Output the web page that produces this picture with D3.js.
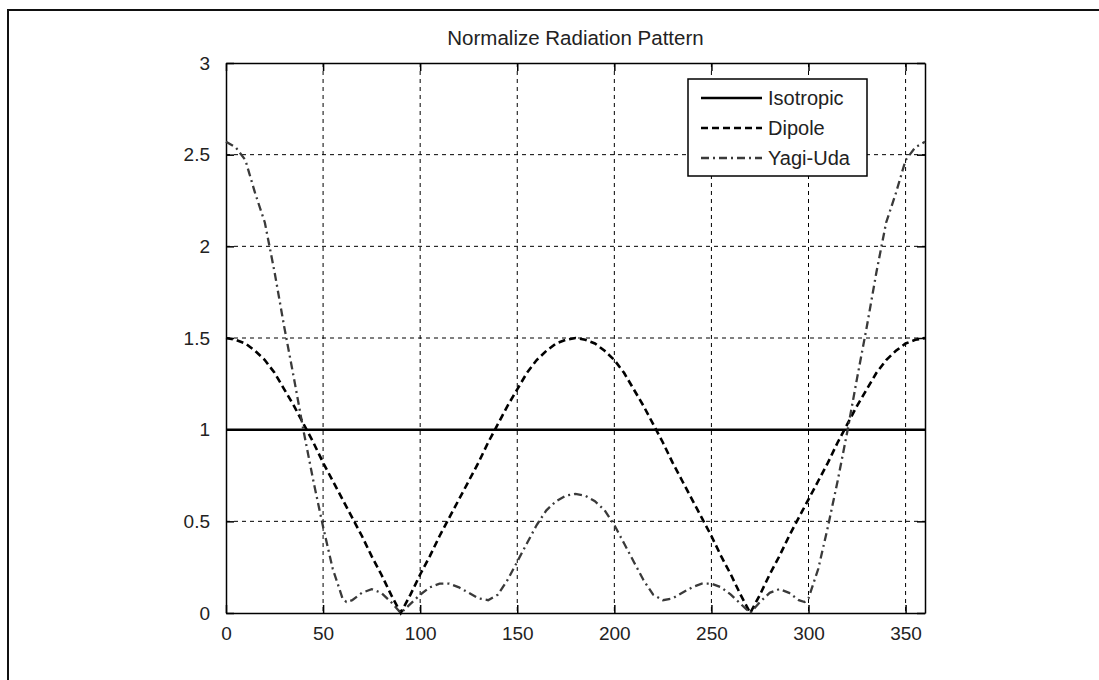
<!DOCTYPE html>
<html>
<head>
<meta charset="utf-8">
<script src="https://cdn.jsdelivr.net/npm/d3@7"></script>
<style>
  body { margin: 0; background: #fff; }
  svg text { font-family: "Liberation Sans", Arial, sans-serif; fill: #222; }
</style>
</head>
<body>
<div id="chart"></div>
<script>
// values
var isoAngles = [0, 360];
var isotropic = [1, 1];

var dipoleAngles = [0, 5, 10, 15, 20, 25, 30, 35, 40, 45, 50, 55, 60, 65, 70, 75, 80, 85, 90,
  95, 100, 105, 110, 115, 120, 125, 130, 135, 140, 145, 150, 155, 160, 165, 170, 175, 180,
  185, 190, 195, 200, 205, 210, 215, 220, 225, 230, 235, 240, 245, 250, 255, 260, 265, 270,
  275, 280, 285, 290, 295, 300, 305, 310, 315, 320, 325, 330, 335, 340, 345, 350, 355, 360];
var dipole = [1.5, 1.49, 1.47, 1.43, 1.38, 1.31, 1.22, 1.13, 1.03, 0.93, 0.82, 0.72, 0.62, 0.52, 0.42, 0.31, 0.21, 0.10, 0,
  0.10, 0.21, 0.31, 0.42, 0.52, 0.62, 0.72, 0.82, 0.93, 1.03, 1.13, 1.22, 1.31, 1.38, 1.43, 1.47, 1.49, 1.5,
  1.49, 1.47, 1.43, 1.38, 1.31, 1.22, 1.13, 1.03, 0.93, 0.82, 0.72, 0.62, 0.52, 0.42, 0.31, 0.21, 0.10, 0,
  0.10, 0.21, 0.31, 0.42, 0.52, 0.62, 0.72, 0.82, 0.93, 1.03, 1.13, 1.22, 1.31, 1.38, 1.43, 1.47, 1.49, 1.5];

var yagiAngles = [0, 5, 10, 15, 20, 25, 30, 35, 40, 45, 50, 55, 60, 62, 65, 70, 75, 80, 85, 90,
  95, 100, 105, 110, 115, 120, 125, 130, 135, 140, 145, 150, 155, 160, 165, 170, 175, 180,
  185, 190, 195, 200, 205, 210, 215, 220, 225, 230, 235, 240, 245, 250, 255, 260, 265, 270,
  275, 280, 285, 290, 295, 298, 300, 305, 310, 315, 320, 325, 330, 335, 340, 345, 350, 355, 360];
var yagi = [2.57, 2.54, 2.47, 2.29, 2.13, 1.86, 1.56, 1.28, 0.99, 0.72, 0.47, 0.24, 0.08, 0.06, 0.07, 0.11, 0.13, 0.11, 0.06, 0,
  0.05, 0.10, 0.14, 0.16, 0.16, 0.14, 0.11, 0.08, 0.07, 0.10, 0.18, 0.28, 0.38, 0.48, 0.56, 0.61, 0.64, 0.65,
  0.64, 0.61, 0.56, 0.48, 0.38, 0.28, 0.18, 0.10, 0.07, 0.08, 0.11, 0.14, 0.16, 0.16, 0.14, 0.10, 0.05, 0,
  0.06, 0.11, 0.13, 0.11, 0.07, 0.06, 0.08, 0.24, 0.47, 0.72, 0.99, 1.28, 1.56, 1.86, 2.13, 2.29, 2.47, 2.54, 2.57];

var xTicks = [0, 50, 100, 150, 200, 250, 300, 350];
var yTicks = [0, 0.5, 1, 1.5, 2, 2.5, 3];
var seriesNames = ["Isotropic", "Dipole", "Yagi-Uda"];

var width = 1099, height = 680;
var plotL = 226, plotR = 925, plotT = 63, plotB = 613;

var svg = d3.select("#chart").append("svg")
    .attr("width", width)
    .attr("height", height);

// outer frame (only top and left edges show in the shot)
svg.append("path")
    .attr("d", "M8,680 L8,10 L1099,10")
    .attr("fill", "none")
    .attr("stroke", "#111")
    .attr("stroke-width", 2);

var x = d3.scaleLinear().domain([0, 360]).range([plotL, plotR]);
var y = d3.scaleLinear().domain([0, 3]).range([plotB, plotT]);

// grid
svg.append("g").selectAll("line")
    .data(xTicks.filter(function(d) { return d > 0; }))
    .enter().append("line")
    .attr("x1", function(d) { return x(d); })
    .attr("x2", function(d) { return x(d); })
    .attr("y1", plotT).attr("y2", plotB)
    .attr("stroke", "#000").attr("stroke-width", 1)
    .attr("stroke-dasharray", "4,4");
svg.append("g").selectAll("line")
    .data(yTicks.filter(function(d) { return d > 0 && d < 3; }))
    .enter().append("line")
    .attr("y1", function(d) { return y(d); })
    .attr("y2", function(d) { return y(d); })
    .attr("x1", plotL).attr("x2", plotR)
    .attr("stroke", "#000").attr("stroke-width", 1)
    .attr("stroke-dasharray", "4,4");

// axes, ticks inside like matlab
var xAxis = svg.append("g")
    .attr("transform", "translate(0," + plotB + ")")
    .call(d3.axisBottom(x).tickValues(xTicks).tickSizeInner(-8).tickSizeOuter(0).tickPadding(14));
var xAxisTop = svg.append("g")
    .attr("transform", "translate(0," + plotT + ")")
    .call(d3.axisTop(x).tickValues(xTicks).tickSizeInner(-8).tickSizeOuter(0).tickFormat(""));
var yAxis = svg.append("g")
    .attr("transform", "translate(" + plotL + ",0)")
    .call(d3.axisLeft(y).tickValues(yTicks).tickSizeInner(-8).tickSizeOuter(0).tickPadding(16)
      .tickFormat(function(d) { return String(d); }));
var yAxisRight = svg.append("g")
    .attr("transform", "translate(" + plotR + ",0)")
    .call(d3.axisRight(y).tickValues(yTicks).tickSizeInner(-8).tickSizeOuter(0).tickFormat(""));

[xAxis, xAxisTop, yAxis, yAxisRight].forEach(function(a) {
  a.select(".domain").attr("stroke", "#000").attr("stroke-width", 1.5);
  a.selectAll(".tick line").attr("stroke", "#000").attr("stroke-width", 1.5);
  a.selectAll("text").style("font-size", "19px").attr("fill", "#222");
});

// lines
var line = d3.line()
    .x(function(d) { return x(d[0]); })
    .y(function(d) { return y(d[1]); });

var styles = [
  { stroke: "#000", dash: null, w: 2.5 },
  { stroke: "#000", dash: "7,4", w: 2.6 },
  { stroke: "#3a3a3a", dash: "8,4,2,4", w: 2.3 }
];

var seriesData = [
  d3.zip(isoAngles, isotropic),
  d3.zip(dipoleAngles, dipole),
  d3.zip(yagiAngles, yagi)
];

seriesData.forEach(function(pts, i) {
  svg.append("path")
    .attr("d", line(pts))
    .attr("fill", "none")
    .attr("stroke", styles[i].stroke)
    .attr("stroke-width", styles[i].w)
    .attr("stroke-dasharray", styles[i].dash);
});

// title
svg.append("text")
    .attr("x", (plotL + plotR) / 2)
    .attr("y", 45)
    .attr("text-anchor", "middle")
    .style("font-size", "20.5px")
    .text("Normalize Radiation Pattern");

// legend
var lg = svg.append("g").attr("transform", "translate(688,79)");
lg.append("rect")
    .attr("width", 179).attr("height", 97)
    .attr("fill", "#fff").attr("stroke", "#000").attr("stroke-width", 1.5);
seriesNames.forEach(function(name, i) {
  var cy = 19 + i * 30;
  lg.append("line")
    .attr("x1", 13).attr("x2", 74)
    .attr("y1", cy).attr("y2", cy)
    .attr("stroke", styles[i].stroke)
    .attr("stroke-width", styles[i].w)
    .attr("stroke-dasharray", styles[i].dash);
  lg.append("text")
    .attr("x", 80).attr("y", cy)
    .attr("dy", "0.35em")
    .style("font-size", "20px")
    .text(name);
});
</script>
</body>
</html>
